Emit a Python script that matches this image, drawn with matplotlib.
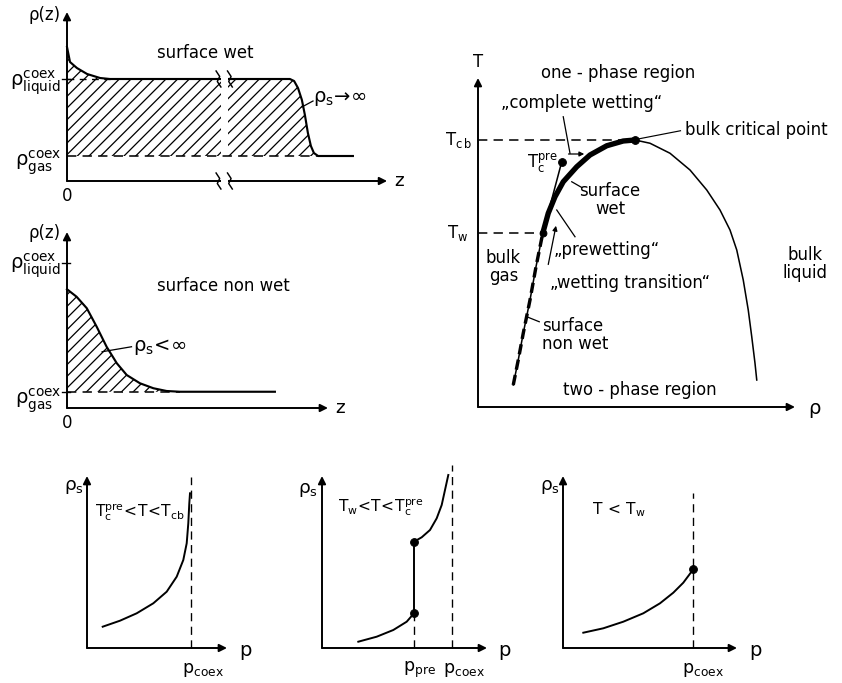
import numpy as np
import matplotlib.pyplot as plt

DPI = 70
W, H = 842, 683

plt.rcParams['font.family'] = ['DejaVu Sans']
plt.rcParams['mathtext.fontset'] = 'dejavusans'
plt.rcParams['hatch.linewidth'] = 1.3

# --- panel 1: density profile, surface wet ---
wet_z = [0, 0.1, 0.33, 0.67, 1.1, 1.43, 7.43, 7.57, 7.7, 7.83, 7.93, 8.03, 8.13, 8.23, 8.37, 9.53]
wet_rho = [5.36, 4.76, 4.52, 4.28, 4.12, 4.08, 4.08, 4.0, 3.72, 3.24, 2.64, 1.92, 1.4, 1.12, 1.0, 1.0]
wet_gas, wet_liquid = 1.0, 4.08

# --- panel 2: density profile, surface non wet ---
nonwet_z = [0, 0.32, 0.66, 0.99, 1.32, 1.66, 1.99, 2.43, 2.88, 3.32, 3.77, 6.93]
nonwet_rho = [4.75, 4.45, 3.99, 3.25, 2.45, 1.79, 1.32, 0.99, 0.79, 0.68, 0.65, 0.65]
nonwet_gas, nonwet_liquid = 0.65, 5.81

# --- panel 3: coexistence curve T(rho) ---
coex_rho = [1.41, 1.61, 1.81, 2.08, 2.32, 2.59, 2.81, 3.08, 3.41, 3.95, 4.48, 5.15, 5.81, 6.28,
            6.88, 7.68, 8.48, 9.15, 9.68, 10.08, 10.35, 10.61, 10.81, 10.95, 11.08, 11.15]
coex_T = [0.88, 1.88, 2.95, 4.28, 5.61, 6.95, 7.75, 8.41, 9.01, 9.61, 10.08, 10.45, 10.64, 10.68,
          10.55, 10.15, 9.48, 8.68, 7.88, 7.08, 6.28, 5.08, 3.88, 2.81, 1.75, 1.08]
i_w, i_c = 5, 13          # index of wetting point and bulk critical point
T_cb, T_w = 10.68, 6.95
pre_rho = [2.59, 3.35]    # prewetting line
pre_T = [6.95, 9.81]

# --- bottom panels: adsorption rho_s(p) ---
a_p = [1.57, 3.3, 4.97, 6.63, 7.97, 8.97, 9.63, 9.97, 10.13, 10.23, 10.3]
a_rs = [2.13, 2.73, 3.47, 4.47, 5.63, 7.13, 8.8, 10.47, 12.47, 14.47, 15.47]
a_coex = 10.4

b_low_p = [3.63, 5.47, 7.13, 8.47, 9.2]
b_low_rs = [0.63, 1.13, 1.8, 2.63, 3.47]
b_up_p = [9.2, 9.97, 10.8, 11.47, 11.97, 12.3, 12.63]
b_up_rs = [10.63, 11.07, 11.8, 12.97, 14.3, 15.8, 17.3]
b_pre, b_coex = 9.2, 13.03

c_p = [2.03, 4.03, 6.03, 8.03, 9.7, 11.03, 12.03, 13.03]
c_rs = [1.53, 1.97, 2.63, 3.47, 4.47, 5.53, 6.53, 7.87]
c_coex = 13.03

FS = 17
DASH = (6, 4)


def make_ax(fig, ox, oy, sx, sy, xlim, ylim):
    left = (ox + xlim[0] * sx) / W
    bottom = 1 - (oy - ylim[0] * sy) / H
    ax = fig.add_axes([left, bottom, (xlim[1] - xlim[0]) * sx / W, (ylim[1] - ylim[0]) * sy / H])
    ax.set_xlim(xlim)
    ax.set_ylim(ylim)
    ax.set_axis_off()
    ax.patch.set_visible(False)
    return ax


def axis_arrows(ax, xtip, ytip, lw=2.0):
    kw = dict(arrowstyle='-|>', color='k', lw=lw, mutation_scale=16, shrinkA=0, shrinkB=0)
    ax.annotate('', xy=(xtip, 0), xytext=(0, 0), arrowprops=kw)
    ax.annotate('', xy=(0, ytip), xytext=(0, 0), arrowprops=kw)


def mt(s):
    return r'$\mathregular{' + s + '}$'


fig = plt.figure(figsize=(W / DPI, H / DPI), dpi=DPI)

# ---------------- panel 1 ----------------
ax1 = make_ax(fig, 67, 181, 30, 25, (-2.2, 11.6), (-1.0, 7.2))
axis_arrows(ax1, 10.67, 6.76)
zw = np.array(wet_z)
rw = np.array(wet_rho)
ax1.fill_between(zw, wet_gas, rw, where=zw <= 8.37, facecolor='none', edgecolor='k',
                 linewidth=0, hatch='//')
ax1.plot(wet_z, wet_rho, color='k', lw=2.2)
ax1.plot([0, 8.37], [wet_gas, wet_gas], color='k', lw=1.6, dashes=DASH)
ax1.plot([0, 1.43], [wet_liquid, wet_liquid], color='k', lw=1.4, dashes=(5, 4))
ax1.plot([-0.17, 0.1], [wet_liquid, wet_liquid], color='k', lw=1.4)
# axis break
ax1.fill_between([5.12, 5.36], wet_gas + 0.05, wet_liquid + 0.3, color='white', lw=0, zorder=3)
ax1.fill_between([5.12, 5.36], -0.2, 0.2, color='white', lw=0, zorder=3)
for xc in (5.05, 5.43):
    for yc in (wet_liquid, 0):
        ax1.plot([xc - 0.08, xc + 0.04, xc - 0.04, xc + 0.08],
                 [yc + 0.32, yc + 0.1, yc - 0.1, yc - 0.32], color='k', lw=1.5, zorder=4)
ax1.text(-0.2, 6.64, 'ρ(z)', ha='right', va='center', fontsize=FS)
ax1.text(-0.2, 3.95, mt(r'\rho^{coex}_{liquid}'), ha='right', va='center', fontsize=20)
ax1.text(-0.2, 0.72, mt(r'\rho^{coex}_{gas}'), ha='right', va='center', fontsize=20)
ax1.text(0, -0.6, '0', ha='center', va='center', fontsize=FS)
ax1.text(10.9, 0, 'z', ha='left', va='center', fontsize=19)
ax1.text(4.6, 5.12, 'surface wet', ha='center', va='center', fontsize=FS)
ax1.text(8.2, 3.3, mt(r'\rho_s\!\rightarrow\!\infty'), ha='left', va='center', fontsize=20)
ax1.plot([7.83, 8.2], [2.96, 3.2], color='k', lw=1.3)

# ---------------- panel 2 ----------------
ax2 = make_ax(fig, 67, 408, 30, 25, (-2.2, 11.6), (-1.0, 7.6))
axis_arrows(ax2, 8.7, 7.04)
zn = np.array(nonwet_z)
rn = np.array(nonwet_rho)
ax2.fill_between(zn, nonwet_gas, rn, where=zn <= 3.77, facecolor='none', edgecolor='k',
                 linewidth=0, hatch='//')
ax2.plot(nonwet_z, nonwet_rho, color='k', lw=2.2)
ax2.plot([0, 3.77], [nonwet_gas, nonwet_gas], color='k', lw=1.6, dashes=DASH)
ax2.plot([-0.17, 0.1], [nonwet_liquid, nonwet_liquid], color='k', lw=1.4)
ax2.plot([-0.17, 0.1], [nonwet_gas, nonwet_gas], color='k', lw=1.4)
ax2.text(-0.2, 7.0, 'ρ(z)', ha='right', va='center', fontsize=FS)
ax2.text(-0.2, 5.7, mt(r'\rho^{coex}_{liquid}'), ha='right', va='center', fontsize=20)
ax2.text(-0.2, 0.3, mt(r'\rho^{coex}_{gas}'), ha='right', va='center', fontsize=20)
ax2.text(0, -0.6, '0', ha='center', va='center', fontsize=FS)
ax2.text(8.95, 0, 'z', ha='left', va='center', fontsize=19)
ax2.text(5.2, 4.89, 'surface non wet', ha='center', va='center', fontsize=FS)
ax2.text(2.2, 2.45, mt(r'\rho_s\!<\!\infty'), ha='left', va='center', fontsize=20)
ax2.plot([1.17, 2.15], [2.25, 2.45], color='k', lw=1.3)

# ---------------- panel 3 ----------------
ax3 = make_ax(fig, 478, 407, 25, 25, (-1.3, 14.6), (-1.0, 15.0))
axis_arrows(ax3, 12.68, 13.16)
ax3.plot(coex_rho, coex_T, color='k', lw=1.6)
ax3.plot(coex_rho[i_w:i_c + 1], coex_T[i_w:i_c + 1], color='k', lw=5.5, solid_capstyle='round')
ax3.plot(coex_rho[:i_w + 1], coex_T[:i_w + 1], color='k', lw=3.5, dashes=(3, 1.6))
ax3.plot([0, coex_rho[i_c]], [T_cb, T_cb], color='k', lw=1.6, dashes=DASH)
ax3.plot([0, coex_rho[i_w]], [T_w, T_w], color='k', lw=1.6, dashes=DASH)
ax3.plot(pre_rho, pre_T, color='k', lw=1.6)
ax3.plot([pre_rho[1], coex_rho[i_c]], [pre_T[1], T_cb], 'o', color='k', ms=8)
ax3.plot([coex_rho[i_w]], [T_w], 'o', color='k', ms=7)
ax3.text(0, 13.8, 'T', ha='center', va='center', fontsize=FS)
ax3.text(13.2, -0.05, 'ρ', ha='left', va='center', fontsize=20)
ax3.text(-0.25, T_cb, mt(r'T_{c\,b}'), ha='right', va='center', fontsize=FS)
ax3.text(-0.4, T_w, mt(r'T_{w}'), ha='right', va='center', fontsize=FS)
ax3.text(5.61, 13.35, 'one - phase region', ha='center', va='center', fontsize=FS)
ax3.text(4.15, 12.15, '\u201ecomplete wetting\u201c', ha='center', va='center', fontsize=FS)
ax3.plot([3.41, 3.68], [11.61, 10.15], color='k', lw=1.3)
ax3.annotate('', xy=(4.25, 10.12), xytext=(3.62, 10.12),
             arrowprops=dict(arrowstyle='-|>', color='k', lw=1.3, mutation_scale=10,
                             shrinkA=0, shrinkB=0))
ax3.text(3.2, 9.75, mt(r'T^{pre}_{c}'), ha='right', va='center', fontsize=FS)
ax3.text(8.28, 11.08, 'bulk critical point', ha='left', va='center', fontsize=FS)
ax3.plot([6.35, 8.1], [10.71, 11.05], color='k', lw=1.2)
ax3.text(5.28, 8.28, 'surface\nwet', ha='center', va='center', fontsize=FS, linespacing=1.0)
ax3.plot([3.75, 4.15], [9.01, 8.78], color='k', lw=1.3)
ax3.text(5.15, 6.28, '\u201eprewetting\u201c', ha='center', va='center', fontsize=FS)
ax3.plot([3.15, 3.88], [7.88, 6.81], color='k', lw=1.3)
ax3.text(6.08, 4.95, '\u201ewetting transition\u201c', ha='center', va='center', fontsize=FS)
ax3.annotate('', xy=(3.12, 7.25), xytext=(2.81, 5.7),
             arrowprops=dict(arrowstyle='-|>', color='k', lw=1.3, mutation_scale=10,
                             shrinkA=0, shrinkB=0))
ax3.text(1.01, 5.61, 'bulk\ngas', ha='center', va='center', fontsize=FS, linespacing=1.0)
ax3.text(13.08, 5.71, 'bulk\nliquid', ha='center', va='center', fontsize=FS, linespacing=1.0)
ax3.text(2.55, 2.88, 'surface\nnon wet', ha='left', va='center', fontsize=FS, linespacing=1.0)
ax3.plot([1.95, 2.45], [3.61, 3.41], color='k', lw=1.3)
ax3.text(6.48, 0.68, 'two - phase region', ha='center', va='center', fontsize=FS)

# ---------------- bottom panel A ----------------
axA = make_ax(fig, 87, 648, 10, 10, (-2.5, 16.5), (-3.5, 18.5))
axis_arrows(axA, 14.0, 17.2)
axA.plot(a_p, a_rs, color='k', lw=2)
axA.plot([a_coex, a_coex], [0, 17.1], color='k', lw=1.4, dashes=DASH)
axA.text(-0.3, 16.1, mt(r'\rho_s'), ha='right', va='center', fontsize=19)
axA.text(0.8, 13.6, mt(r'T^{pre}_{c}\!<\!T\!<\!T_{cb}'), ha='left', va='center', fontsize=16)
axA.text(15.2, -0.2, 'p', ha='left', va='center', fontsize=20)
axA.text(9.5, -2.2, mt(r'p_{coex}'), ha='left', va='center', fontsize=18)

# ---------------- bottom panel B ----------------
axB = make_ax(fig, 322, 648, 10, 10, (-2.5, 18.5), (-3.5, 19.0))
axis_arrows(axB, 16.5, 17.2)
axB.plot(b_low_p, b_low_rs, color='k', lw=2)
axB.plot(b_up_p, b_up_rs, color='k', lw=2)
axB.plot([b_pre, b_pre], [b_low_rs[-1], b_up_rs[0]], color='k', lw=2)
axB.plot([b_pre, b_pre], [b_low_rs[-1], b_up_rs[0]], 'o', color='k', ms=8)
axB.plot([b_pre, b_pre], [0, b_low_rs[-1]], color='k', lw=1.4, dashes=DASH)
axB.plot([b_coex, b_coex], [0, 18.3], color='k', lw=1.4, dashes=DASH)
axB.text(-0.4, 15.8, mt(r'\rho_s'), ha='right', va='center', fontsize=19)
axB.text(1.6, 14.1, mt(r'T_{w}\!<\!T\!<\!T^{pre}_{c}'), ha='left', va='center', fontsize=16)
axB.text(17.6, -0.2, 'p', ha='left', va='center', fontsize=20)
axB.text(8.1, -2.2, mt(r'p_{pre}'), ha='left', va='center', fontsize=18)
axB.text(12.1, -2.2, mt(r'p_{coex}'), ha='left', va='center', fontsize=18)

# ---------------- bottom panel C ----------------
axC = make_ax(fig, 563, 648, 10, 10, (-2.0, 20.0), (-3.5, 18.0))
axis_arrows(axC, 17.4, 17.2)
axC.plot(c_p, c_rs, color='k', lw=2)
axC.plot([c_p[-1]], [c_rs[-1]], 'o', color='k', ms=8)
axC.plot([c_coex, c_coex], [0, 15.5], color='k', lw=1.4, dashes=DASH)
axC.text(-0.3, 16.1, mt(r'\rho_s'), ha='right', va='center', fontsize=19)
axC.text(2.9, 13.8, mt(r'T\,<\,T_{w}'), ha='left', va='center', fontsize=16)
axC.text(18.6, -0.2, 'p', ha='left', va='center', fontsize=20)
axC.text(11.9, -2.2, mt(r'p_{coex}'), ha='left', va='center', fontsize=18)

fig.savefig('out.png', dpi=DPI)
